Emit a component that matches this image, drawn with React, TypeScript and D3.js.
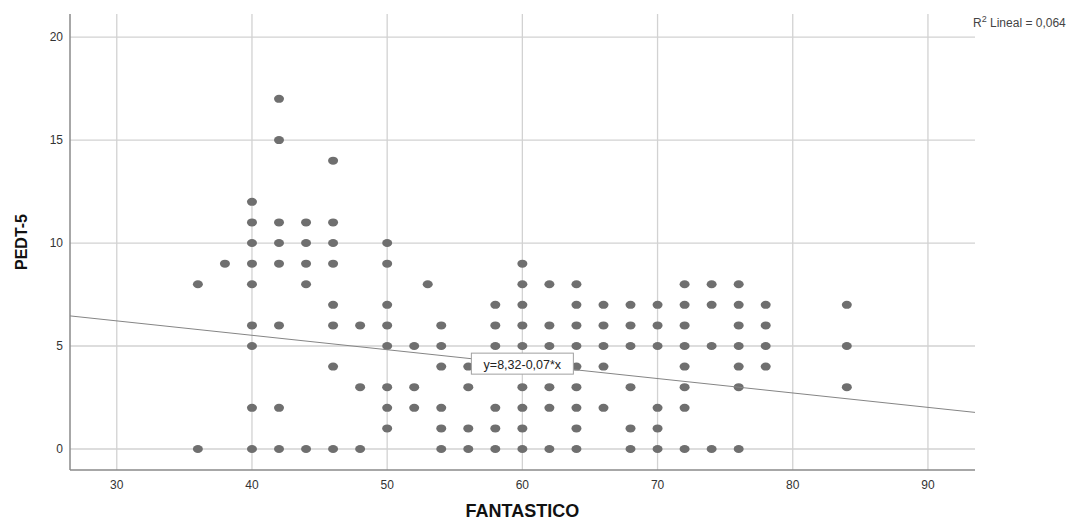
import React from "react";
import * as d3 from "d3";

// FANTASTICO values (x) and the PEDT-5 values found at each of them
const fantastico = [36, 38, 40, 42, 44, 46, 48, 50, 52, 53, 54, 56, 58, 60, 62, 64, 66, 68, 70, 72, 74, 76, 78, 84];
const pedt5 = [
  [8, 0],
  [9],
  [12, 11, 10, 9, 8, 6, 5, 2, 0],
  [17, 15, 11, 10, 9, 6, 2, 0],
  [11, 10, 9, 8, 0],
  [14, 11, 10, 9, 7, 6, 4, 0],
  [6, 3, 0],
  [10, 9, 7, 6, 5, 3, 2, 1],
  [5, 3, 2],
  [8],
  [6, 5, 4, 2, 1, 0],
  [4, 3, 1, 0],
  [7, 6, 5, 2, 1, 0],
  [9, 8, 7, 6, 5, 3, 2, 1, 0],
  [8, 6, 5, 3, 2, 0],
  [8, 7, 6, 5, 4, 3, 2, 1, 0],
  [7, 6, 5, 4, 2],
  [7, 6, 5, 3, 1, 0],
  [7, 6, 5, 2, 1, 0],
  [8, 7, 6, 5, 4, 3, 2, 0],
  [8, 7, 5, 0],
  [8, 7, 6, 5, 4, 3, 0],
  [7, 6, 5, 4],
  [7, 5, 3],
];

const xTicks = [30, 40, 50, 60, 70, 80, 90];
const yTicks = [0, 5, 10, 15, 20];

// fit line y = 8,32 - 0,07*x
const fitIntercept = 8.32;
const fitSlope = -0.07;
const fitLabel = "y=8,32-0,07*x";
const fitLabelAt = 60;
const rSquared = "0,064";

const App = () => {
  const left = 62;
  const right = 967;
  const top = 6;
  const bottom = 462;

  const x = d3.scaleLinear().domain([26.54, 93.48]).range([left, right]);
  const y = d3.scaleLinear().domain([-1.02, 21.12]).range([bottom, top]);

  const points = fantastico.flatMap((fx, i) => pedt5[i].map((py) => ({ fx, py })));

  const fit = (v: number) => fitIntercept + fitSlope * v;
  const line = d3
    .line<number>()
    .x((d) => x(d))
    .y((d) => y(fit(d)));

  const grid = "#d2d2d2";
  const font = "'Liberation Sans', Arial, sans-serif";

  const lx = x(fitLabelAt);
  const ly = y(fit(fitLabelAt));

  return (
    <svg width={1065} height={514} style={{ display: "block" }} fontFamily={font}>
      {/* gridlines */}
      {yTicks.map((t) => (
        <line key={"gy" + t} x1={left} x2={right} y1={y(t)} y2={y(t)} stroke={grid} strokeWidth={1.3} />
      ))}
      {xTicks.map((t) => (
        <line key={"gx" + t} x1={x(t)} x2={x(t)} y1={top} y2={bottom} stroke={grid} strokeWidth={1.3} />
      ))}

      {/* axes */}
      <line x1={left} x2={left} y1={top} y2={bottom} stroke="#8a8a8a" strokeWidth={1.5} />
      <line x1={left} x2={right} y1={bottom} y2={bottom} stroke="#8a8a8a" strokeWidth={1.5} />

      {yTicks.map((t) => (
        <text key={"ty" + t} x={left - 7} y={y(t)} dy="0.35em" textAnchor="end" fontSize={12} fill="#333">
          {t}
        </text>
      ))}
      {xTicks.map((t) => (
        <text key={"tx" + t} x={x(t)} y={bottom + 19} textAnchor="middle" fontSize={12} fill="#333">
          {t}
        </text>
      ))}

      {/* points */}
      {points.map((p, i) => (
        <ellipse key={i} cx={x(p.fx)} cy={y(p.py)} rx={5} ry={4} fill="#6f6f6f" />
      ))}

      {/* fit line */}
      <path d={line(x.domain()) || ""} fill="none" stroke="#858585" strokeWidth={1} />

      <rect x={lx - 51} y={ly - 11} width={102} height={21} fill="#fff" stroke="#a0a0a0" strokeWidth={1} />
      <text x={lx} y={ly} dy="0.35em" textAnchor="middle" fontSize={12.5} fill="#222">
        {fitLabel}
      </text>

      <text x={right - 2} y={19} fontSize={12} fill="#444">
        R<tspan dy={-5} fontSize={9}>2</tspan>
        <tspan dy={5}> Lineal = {rSquared}</tspan>
      </text>

      {/* axis titles */}
      <text
        transform={`translate(${13},${(top + bottom) / 2}) rotate(-90)`}
        textAnchor="middle"
        dy="0.35em"
        fontSize={16}
        fontWeight="bold"
        fill="#111"
      >
        PEDT-5
      </text>
      <text x={x(60)} y={509} textAnchor="middle" fontSize={18} fontWeight="bold" fill="#111">
        FANTASTICO
      </text>
    </svg>
  );
};

export default App;
